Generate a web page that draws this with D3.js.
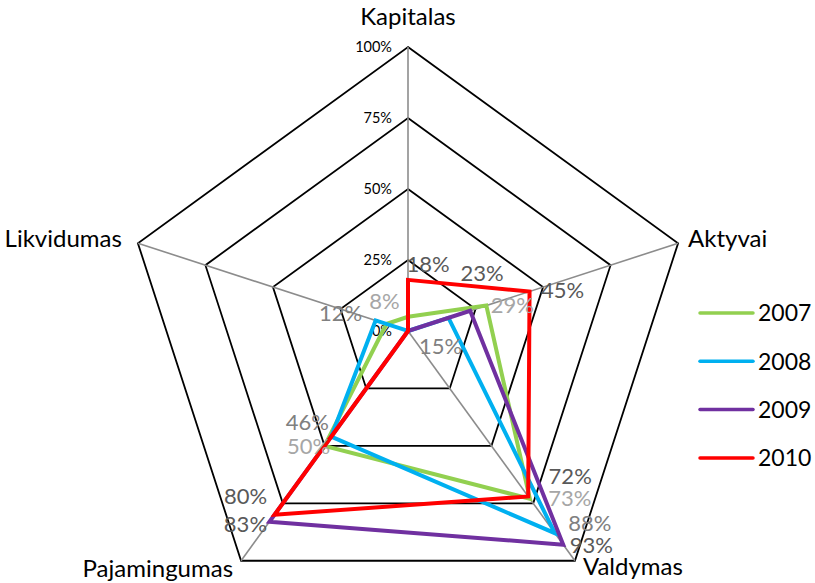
<!DOCTYPE html>
<html>
<head>
<meta charset="utf-8">
<script src="https://cdn.jsdelivr.net/npm/d3@7"></script>
<style>
  html, body { margin: 0; padding: 0; background: #fff; }
  svg { display: block; font-family: Lato, "Open Sans", sans-serif; }
</style>
</head>
<body>
<svg id="chart" width="815" height="583"></svg>
<script>
// Radar categories and yearly scores (shares of 100%)
const axes = ["Kapitalas", "Aktyvai", "Valdymas", "Pajamingumas", "Likvidumas"];
const years = ["2007", "2008", "2009", "2010"];
const v2007 = [0.05, 0.29, 0.73, 0.50, 0.08];
const v2008 = [0.00, 0.15, 0.88, 0.46, 0.12];
const v2009 = [0.00, 0.23, 0.93, 0.83, 0.00];
const v2010 = [0.18, 0.45, 0.72, 0.80, 0.00];
const tickValues = [0, 0.25, 0.5, 0.75, 1];

// Styling and label layout kept apart from the values
const colors = ["#92D050", "#00B0F0", "#7030A0", "#FF0000"];
const labelColors = ["#a6a6a6", "#808080", "#595959", "#595959"];
// offset of each value label's centre from its point; null = no label
const labelOffsets = [
  [null, [26, 0], [40, 0], [-16, 0], [-2, -23]],
  [null, [-8, 28], [35, -10], [-24, -14], [-35, -7]],
  [null, [12, -38], [28, 1], [-24, 3], null],
  [[20, -16], [33, -1], [42, -20], [-29, -19], null]
];

const series = [v2007, v2008, v2009, v2010].map((values, i) => ({
  year: years[i], values, color: colors[i], labelColor: labelColors[i], offsets: labelOffsets[i]
}));

const svg = d3.select("#chart");
const cx = 408, cy = 331, R = 284;

const r = d3.scaleLinear().domain([0, 1]).range([0, R]);
const angle = d3.scaleLinear().domain([0, axes.length]).range([0, 2 * Math.PI]);

const pt = (i, v) => {
  const a = angle(i);
  return [cx + r(v) * Math.sin(a), cy - r(v) * Math.cos(a)];
};

const g = svg.append("g");

// concentric pentagon rings
const ringLine = d3.line();
g.selectAll("path.ring")
  .data(tickValues.filter(t => t > 0))
  .join("path")
  .attr("class", "ring")
  .attr("d", t => ringLine(axes.map((_, i) => pt(i, t))) + "Z")
  .attr("fill", "none")
  .attr("stroke", "#000")
  .attr("stroke-width", 1.8);

// spokes
g.selectAll("line.spoke")
  .data(axes)
  .join("line")
  .attr("class", "spoke")
  .attr("x1", cx).attr("y1", cy)
  .attr("x2", (_, i) => pt(i, 1)[0])
  .attr("y2", (_, i) => pt(i, 1)[1])
  .attr("stroke", "#8c8c8c")
  .attr("stroke-width", 1.6);

// radial tick labels along the first axis
g.selectAll("text.tick")
  .data(tickValues)
  .join("text")
  .attr("class", "tick")
  .attr("x", cx - 16)
  .attr("y", t => cy - r(t))
  .attr("dy", "0.35em")
  .attr("text-anchor", "end")
  .attr("font-size", 14.5)
  .attr("fill", "#000")
  .text(d3.format(".0%"));

// axis titles
const titlePos = [
  { x: cx, y: 25, anchor: "middle" },
  { x: pt(1, 1)[0] + 10, y: 247, anchor: "start" },
  { x: pt(2, 1)[0] + 8, y: 575, anchor: "start" },
  { x: pt(3, 1)[0] - 8, y: 577, anchor: "end" },
  { x: pt(4, 1)[0] - 16, y: 247, anchor: "end" }
];
g.selectAll("text.axis-title")
  .data(axes)
  .join("text")
  .attr("class", "axis-title")
  .attr("x", (_, i) => titlePos[i].x)
  .attr("y", (_, i) => titlePos[i].y)
  .attr("text-anchor", (_, i) => titlePos[i].anchor)
  .attr("font-size", 24)
  .attr("fill", "#000")
  .text(d => d);

// series polygons
const seriesG = g.selectAll("g.series")
  .data(series)
  .join("g")
  .attr("class", "series");

seriesG.append("path")
  .attr("d", s => d3.line()(s.values.map((v, i) => pt(i, v))) + "Z")
  .attr("fill", "none")
  .attr("stroke", s => s.color)
  .attr("stroke-width", 4)
  .attr("stroke-linejoin", "miter");

// value labels
series.forEach(s => {
  s.values.forEach((v, i) => {
    const off = s.offsets[i];
    if (!off) return;
    const [x, y] = pt(i, v);
    g.append("text")
      .attr("x", x + off[0])
      .attr("y", y + off[1])
      .attr("dy", "0.35em")
      .attr("text-anchor", "middle")
      .attr("font-size", 22)
      .attr("fill", s.labelColor)
      .text(d3.format(".0%")(v));
  });
});

// legend
const legend = svg.append("g")
  .selectAll("g")
  .data(series)
  .join("g")
  .attr("transform", (_, i) => `translate(700, ${313 + i * 48.3})`);

legend.append("line")
  .attr("x1", 0).attr("x2", 53)
  .attr("stroke", s => s.color)
  .attr("stroke-width", 3.5)
  .attr("stroke-linecap", "round");

legend.append("text")
  .attr("x", 58)
  .attr("dy", "0.36em")
  .attr("font-size", 23)
  .attr("fill", "#000")
  .text(s => s.year);
</script>
</body>
</html>
